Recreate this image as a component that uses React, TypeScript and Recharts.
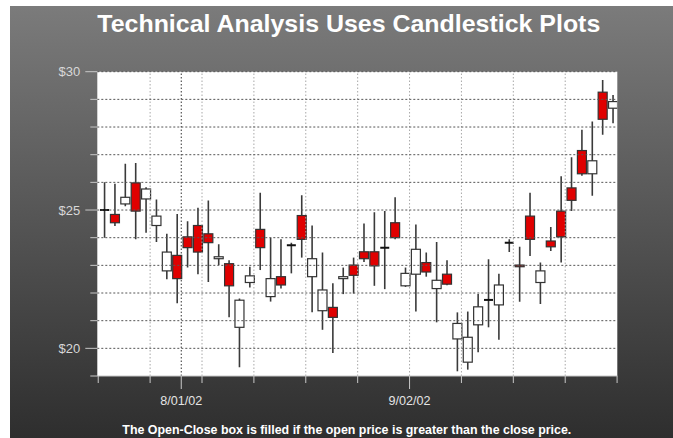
import { ComposedChart, Bar, XAxis, YAxis, ReferenceLine, CartesianGrid } from 'recharts';

// trading-day slots, 50 sessions from mid July to mid Sept 2002
const openPrices = [
  25.0, 24.84, 25.22, 25.98, 25.4, 24.44, 22.8, 23.36, 24.03, 24.44,
  24.14, 23.24, 23.06, 20.76, 22.38, 24.3, 21.87, 22.59, 23.73, 24.8,
  22.59, 21.36, 21.48, 22.52, 23.01, 23.49, 23.49, 23.64, 24.54, 22.26,
  22.68, 23.1, 22.16, 22.68, 20.34, 19.5, 20.85, 21.75, 21.57, 23.82,
  23.01, 24.78, 22.38, 23.88, 24.96, 25.8, 27.15, 26.31, 29.26, 28.68,
];
const closePrices = [
  25.0, 24.54, 25.46, 24.96, 25.76, 24.78, 23.48, 22.52, 23.64, 23.48,
  23.82, 23.31, 22.26, 21.74, 22.62, 23.64, 22.52, 22.29, 23.73, 23.94,
  23.24, 22.11, 21.12, 22.59, 22.64, 23.24, 22.98, 23.64, 24.0, 22.71,
  23.58, 22.76, 22.46, 22.32, 20.9, 20.4, 21.5, 21.75, 22.29, 23.82,
  22.95, 23.94, 22.8, 23.67, 24.03, 25.35, 26.31, 26.78, 28.28, 28.92,
];
const highPrices = [
  26.0, 25.95, 26.67, 26.7, 25.82, 25.38, 24.14, 24.86, 24.59, 25.08,
  25.34, 23.76, 23.18, 21.8, 22.95, 25.62, 24.0, 23.94, 23.82, 25.53,
  24.44, 23.46, 22.35, 22.92, 23.28, 24.51, 24.92, 24.96, 25.46, 22.92,
  24.48, 23.46, 23.84, 23.18, 21.3, 21.33, 21.96, 23.22, 22.7, 23.94,
  23.67, 25.62, 23.1, 24.39, 26.22, 26.91, 27.9, 28.2, 29.7, 29.16,
];
const lowPrices = [
  24.0, 24.42, 25.14, 23.94, 24.18, 23.84, 22.5, 21.63, 22.92, 22.68,
  22.4, 23.01, 21.12, 19.32, 22.2, 22.83, 21.69, 22.16, 22.71, 23.28,
  21.3, 20.67, 19.83, 21.96, 21.98, 23.12, 22.26, 22.14, 23.94, 22.22,
  21.33, 22.59, 20.94, 22.28, 19.17, 19.23, 19.86, 20.76, 20.31, 23.48,
  21.68, 23.34, 21.6, 23.52, 23.1, 24.96, 26.24, 25.52, 27.72, 28.14,
];

const weekTicks = [-0.58, 4.42, 9.42, 14.42, 19.42, 24.42, 29.42, 34.42, 39.42, 44.42, 49.42];
const dateTicks = [7.42, 29.42];
const dateLabels = ['8/01/02', '9/02/02'];
const priceTicks = [19, 20, 21, 22, 23, 24, 25, 26, 27, 28, 29, 30];
const priceLabels = [20, 25, 30];
const gridPrices = [20, 21, 22, 23, 24, 25, 26, 27, 28, 29, 30];

const candles = openPrices.map((open, i) => ({
  pos: i,
  open,
  close: closePrices[i],
  high: highPrices[i],
  low: lowPrices[i],
  range: [lowPrices[i], highPrices[i]],
}));

const xTicks = [...weekTicks, ...dateTicks.filter((t) => !weekTicks.includes(t))].sort((a, b) => a - b);

const FONT = '"Liberation Sans", Arial, sans-serif';

function Candle(props: any) {
  const { x, y, width, height, payload } = props;
  if (!payload) return null;
  const top = Math.min(y, y + height);
  const bottom = Math.max(y, y + height);
  const cx = x + width / 2;
  const span = payload.high - payload.low;
  const pxPer = span > 0 ? (bottom - top) / span : 0;
  const yOf = (v: number) => top + (payload.high - v) * pxPer;
  const bodyTop = yOf(Math.max(payload.open, payload.close));
  const bodyBottom = yOf(Math.min(payload.open, payload.close));
  const bw = 9;
  const falling = payload.open > payload.close;
  return (
    <g>
      <line x1={cx} x2={cx} y1={top} y2={bottom} stroke="#3a3a3a" strokeWidth={1.6} />
      {payload.open === payload.close ? (
        <line x1={cx - bw / 2} x2={cx + bw / 2} y1={bodyTop} y2={bodyTop} stroke="#111" strokeWidth={2} />
      ) : (
        <rect
          x={cx - bw / 2}
          y={bodyTop}
          width={bw}
          height={Math.max(bodyBottom - bodyTop, 1.5)}
          fill={falling ? '#e00000' : '#ffffff'}
          stroke="#333"
          strokeWidth={1.2}
        />
      )}
    </g>
  );
}

function PriceTick(props: any) {
  const { x, y, payload } = props;
  const major = priceLabels.includes(payload.value);
  return (
    <g>
      <line x1={x - (major ? 12 : 7)} x2={x} y1={y} y2={y} stroke="#c8c8c8" />
      {major && (
        <text x={x - 17} y={y + 4.5} textAnchor="end" fill="#d8d8d8" fontSize={13} fontFamily={FONT}>
          ${payload.value}
        </text>
      )}
    </g>
  );
}

function DateTick(props: any) {
  const { x, y, payload } = props;
  const idx = dateTicks.findIndex((t) => Math.abs(t - payload.value) < 0.01);
  const label = idx >= 0 ? dateLabels[idx] : null;
  return (
    <g>
      <line x1={x} x2={x} y1={y} y2={y + (label ? 13 : 7)} stroke="#c8c8c8" />
      {label && (
        <text
          x={x}
          y={y + 29}
          textAnchor="middle"
          fill="#e4e4e4"
          fontSize={13.5}
          fontFamily={FONT}
          textLength={42}
          lengthAdjust="spacingAndGlyphs"
        >
          {label}
        </text>
      )}
    </g>
  );
}

export default function App() {
  return (
    <div style={{ position: 'absolute', left: 0, top: 0, width: 673, height: 438, background: '#fff' }}>
      <div
        style={{
          position: 'absolute',
          left: 10,
          top: 6,
          width: 663,
          height: 432,
          background: 'linear-gradient(to bottom, #7b7b7b, #2e2e2e)',
        }}
      />
      <div style={{ position: 'absolute', left: 0, top: 0 }}>
        <ComposedChart
          width={673}
          height={438}
          data={candles}
          margin={{ top: 71.7, right: 55.7, bottom: 22, left: 57.3 }}
        >
          <CartesianGrid horizontal={false} vertical={false} fill="#ffffff" />
          {weekTicks.slice(1, -1).map((t) => (
            <ReferenceLine key={'w' + t} x={t} stroke="#a8a8a8" strokeDasharray="1.5 2" />
          ))}
          <ReferenceLine x={dateTicks[0]} stroke="#333" strokeDasharray="1.5 2" />
          {gridPrices.map((p) => (
            <ReferenceLine key={'p' + p} y={p} stroke="#555" strokeDasharray="2 2" />
          ))}
          <XAxis
            type="number"
            dataKey="pos"
            domain={[-0.67, 49.44]}
            ticks={xTicks}
            interval={0}
            allowDataOverflow
            height={40}
            tickSize={0}
            tickMargin={0}
            tickLine={false}
            axisLine={{ stroke: '#c8c8c8' }}
            tick={<DateTick />}
          />
          <YAxis
            type="number"
            domain={[19, 30]}
            ticks={priceTicks}
            interval={0}
            allowDataOverflow
            width={40}
            tickSize={0}
            tickMargin={0}
            tickLine={false}
            axisLine={false}
            tick={<PriceTick />}
          />
          <Bar dataKey="range" barSize={9} shape={<Candle />} isAnimationActive={false} />
        </ComposedChart>
      </div>
      <svg
        width={673}
        height={438}
        style={{ position: 'absolute', left: 0, top: 0, pointerEvents: 'none' }}
      >
        <text
          x={97.3}
          y={32.3}
          fill="#ffffff"
          fontSize={24}
          fontWeight="bold"
          fontFamily={FONT}
          textLength={503}
          lengthAdjust="spacingAndGlyphs"
        >
          Technical Analysis Uses Candlestick Plots
        </text>
        <text
          x={122.3}
          y={434}
          fill="#ffffff"
          fontSize={12.5}
          fontWeight="bold"
          fontFamily={FONT}
          textLength={449}
          lengthAdjust="spacingAndGlyphs"
        >
          The Open-Close box is filled if the open price is greater than the close price.
        </text>
      </svg>
    </div>
  );
}
